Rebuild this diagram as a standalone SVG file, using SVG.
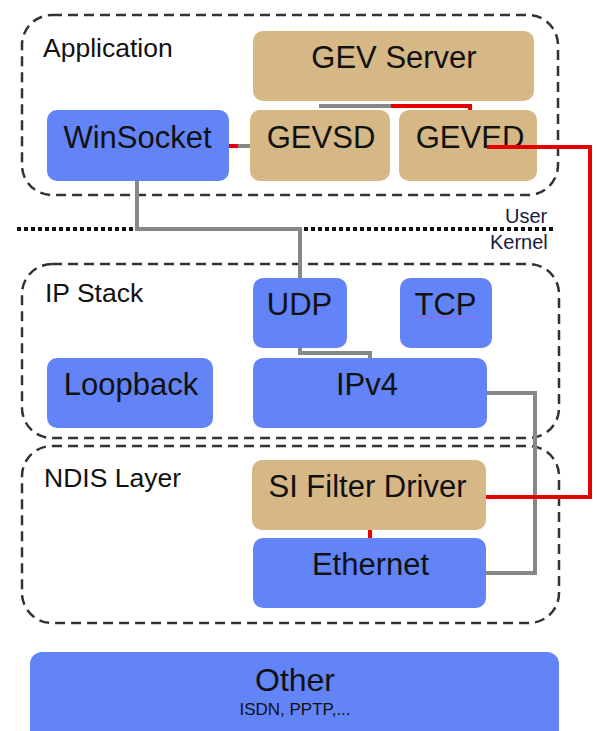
<svg xmlns="http://www.w3.org/2000/svg" width="597" height="731" viewBox="0 0 597 731">
  <style>
    text { font-family: "Liberation Sans", Arial, sans-serif; fill: #111; }
    .node { font-size: 31px; text-anchor: middle; }
    .label { font-size: 26.5px; }
    .small { font-size: 20px; fill: #1a1a40; }
    .blue { fill: #6384f6; }
    .tan { fill: #d5b886; }
    .zone { fill: none; stroke: #333; stroke-width: 2.5; stroke-dasharray: 10 6; }
    .gray { fill: none; stroke: #888; stroke-width: 4; }
    .red { fill: none; stroke: #e60000; stroke-width: 4; }
  </style>
  <rect width="597" height="731" fill="#fff"/>

  <!-- layer zones -->
  <g id="zones">
    <rect class="zone" x="22" y="15" width="536" height="180" rx="30"/>
    <rect class="zone" x="22" y="264" width="537" height="174" rx="30"/>
    <rect class="zone" x="22" y="446" width="537" height="177" rx="30"/>
    <text class="label" x="43" y="57">Application</text>
    <text class="label" x="45" y="302">IP Stack</text>
    <text class="label" x="44" y="487">NDIS Layer</text>
  </g>

  <!-- user / kernel boundary -->
  <g id="boundary">
    <line x1="17" y1="229" x2="556" y2="229" stroke="#111" stroke-width="4" stroke-dasharray="4 3"/>
    <text class="small" x="505" y="223">User</text>
    <text class="small" x="490" y="249">Kernel</text>
  </g>

  <g id="gev-server">
    <rect class="tan" x="253" y="31" width="281" height="70" rx="10"/>
    <text class="node" x="394" y="68">GEV Server</text>
  </g>
  <g id="winsocket">
    <rect class="blue" x="47" y="110" width="182" height="71" rx="10"/>
    <text class="node" x="137.5" y="148">WinSocket</text>
  </g>
  <g id="gevsd">
    <rect class="tan" x="250" y="110" width="140" height="71" rx="10"/>
    <text class="node" x="321" y="148">GEVSD</text>
  </g>
  <g id="geved">
    <rect class="tan" x="399" y="110" width="138" height="71" rx="10"/>
    <text class="node" x="470" y="148">GEVED</text>
  </g>
  <g id="udp">
    <rect class="blue" x="253" y="278" width="94" height="70" rx="10"/>
    <text class="node" x="299.5" y="315">UDP</text>
  </g>
  <g id="tcp">
    <rect class="blue" x="400" y="278" width="92" height="70" rx="10"/>
    <text class="node" x="445.5" y="315">TCP</text>
    <line x1="414" y1="317" x2="477" y2="317" stroke="#d040d0" stroke-width="1" stroke-dasharray="1.5 1.5"/>
  </g>
  <g id="loopback">
    <rect class="blue" x="47" y="358" width="166" height="70" rx="10"/>
    <text class="node" x="131" y="395">Loopback</text>
  </g>
  <g id="ipv4">
    <rect class="blue" x="253" y="358" width="234" height="70" rx="10"/>
    <text class="node" x="367" y="395">IPv4</text>
  </g>
  <g id="si-filter-driver">
    <rect class="tan" x="252" y="460" width="234" height="70" rx="10"/>
    <text class="node" x="367.5" y="497">SI Filter Driver</text>
  </g>
  <g id="ethernet">
    <rect class="blue" x="253" y="538" width="233" height="70" rx="10"/>
    <text class="node" x="370.5" y="575">Ethernet</text>
  </g>
  <g id="other">
    <rect class="blue" x="30" y="652" width="529" height="100" rx="12"/>
    <text class="node" x="295" y="691" style="font-size:32px">Other</text>
    <text x="295" y="715" style="font-size:17px;text-anchor:middle">ISDN, PPTP,...</text>
  </g>

  <!-- connectors, drawn over the nodes -->
  <g id="connectors">
    <path class="gray" d="M137 181 V229 H300 V278"/>
    <path class="gray" d="M300 348 V353 H370 V358"/>
    <path class="gray" d="M487 393 H535 V573 H486"/>
    <path class="gray" d="M319 106 H391"/>
    <path class="red" d="M391 106 H470 V110"/>
    <path class="red" d="M229 146 H238"/>
    <path class="gray" d="M238 146 H250"/>
    <path class="red" d="M487 147 H590 V497 H486"/>
    <path class="red" d="M370 530 V538"/>
  </g>
</svg>
